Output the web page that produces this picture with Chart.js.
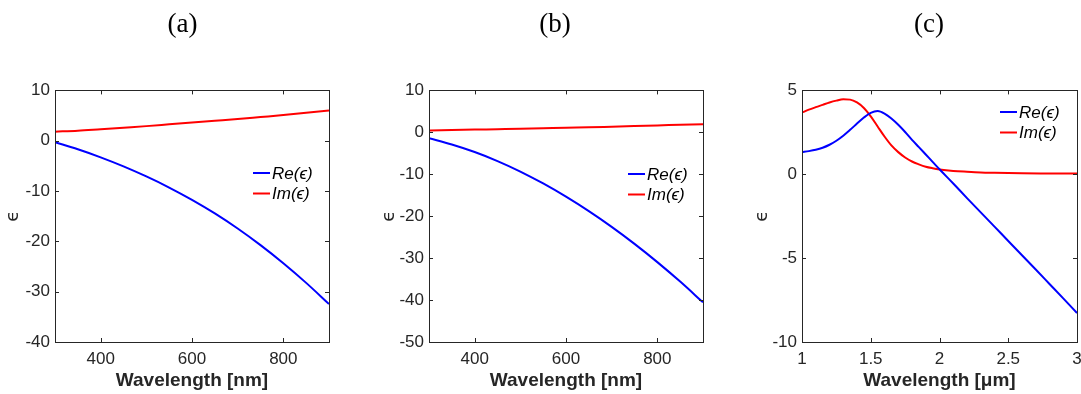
<!DOCTYPE html>
<html lang="en">
<head>
    <meta charset="UTF-8">
    <title>Permittivity</title>
    <script src="https://cdn.jsdelivr.net/npm/chart.js@4.4.1/dist/chart.umd.min.js"></script>
    <style>
        body {
            margin: 0;
            width: 1081px;
            height: 394px;
            overflow: hidden;
            background: #fff;
            position: relative;
        }

        canvas {
            position: absolute;
            top: 0;
        }
    </style>
</head>
<body>
    <canvas id="chartA" width="365" height="394" style="left: 0px;"></canvas>
    <canvas id="chartB" width="360" height="394" style="left: 375px;"></canvas>
    <canvas id="chartC" width="354" height="394" style="left: 752px;"></canvas>

    <script>
        // Panel (a) - wavelength in nm
        const wavelengthA = [300, 350, 400, 450, 500, 550, 600, 650, 700, 750, 800, 850, 900];
        const reA = [-0.3, -1.7, -3.3, -5.1, -7.1, -9.3, -11.75, -14.45, -17.45, -20.75, -24.35, -28.25, -32.45];
        const imA = [1.8, 2.0, 2.3, 2.6, 2.9, 3.25, 3.6, 3.95, 4.3, 4.7, 5.1, 5.55, 6.0];

        // Panel (b) - wavelength in nm
        const wavelengthB = [300, 350, 400, 450, 500, 550, 600, 650, 700, 750, 800, 850, 900];
        const reB = [-1.4, -2.9, -4.7, -6.85, -9.35, -12.2, -15.35, -18.8, -22.55, -26.6, -30.95, -35.6, -40.55];
        const imB = [0.45, 0.55, 0.65, 0.75, 0.85, 0.97, 1.1, 1.2, 1.35, 1.5, 1.65, 1.8, 1.95];

        // Panel (c) - wavelength in um
        const wavelengthReC = [1.00, 1.05, 1.10, 1.15, 1.20, 1.25, 1.30, 1.35, 1.40, 1.45, 1.50, 1.55, 1.60, 1.65, 1.70,
            1.75, 1.80, 1.85, 1.90, 1.95, 2.00, 2.10, 2.20, 2.30, 2.40, 2.50, 2.60, 2.70, 2.80, 2.90, 3.00];
        const reC = [1.32, 1.38, 1.46, 1.58, 1.76, 2.00, 2.30, 2.65, 3.02, 3.38, 3.66, 3.77, 3.62, 3.32, 2.95,
            2.52, 2.05, 1.62, 1.18, 0.74, 0.30, -0.55, -1.42, -2.27, -3.12, -3.98, -4.83, -5.68, -6.54, -7.40, -8.27];
        const wavelengthImC = [1.00, 1.05, 1.10, 1.15, 1.20, 1.25, 1.30, 1.35, 1.40, 1.45, 1.50, 1.55, 1.60, 1.65, 1.70,
            1.75, 1.80, 1.85, 1.90, 1.95, 2.00, 2.10, 2.20, 2.30, 2.40, 2.60, 2.80, 3.00];
        const imC = [3.67, 3.85, 4.00, 4.14, 4.28, 4.39, 4.47, 4.45, 4.28, 3.95, 3.45, 2.85, 2.25, 1.72, 1.32,
            1.00, 0.76, 0.59, 0.45, 0.36, 0.29, 0.20, 0.15, 0.11, 0.09, 0.06, 0.05, 0.04];

        const xTicksNm = [400, 600, 800];
        const xTicksUm = [1, 1.5, 2, 2.5, 3];
        const yTicksA = [-40, -30, -20, -10, 0, 10];
        const yTicksB = [-50, -40, -30, -20, -10, 0, 10];
        const yTicksC = [-10, -5, 0, 5];

        const seriesLabels = ['Re(\u03F5)', 'Im(\u03F5)'];
        const axisColor = '#262626';
        const sans = '"Liberation Sans", Arial, sans-serif';

        function toPoints(xs, ys) {
            return xs.map((x, i) => ({ x: x, y: ys[i] }));
        }

        // box around the axes, inward ticks and the legend (MATLAB look)
        function boxPlugin(legendDx, legendY) {
            return {
                id: 'matlabBox',
                afterDraw(chart) {
                    const ctx = chart.ctx;
                    const a = chart.chartArea;
                    const xs = chart.scales.x;
                    const ys = chart.scales.y;
                    const len = 4;

                    ctx.save();
                    ctx.strokeStyle = axisColor;
                    ctx.lineWidth = 1;
                    ctx.strokeRect(Math.round(a.left) + 0.5, Math.round(a.top) + 0.5,
                        Math.round(a.right - a.left), Math.round(a.bottom - a.top));

                    ctx.beginPath();
                    xs.ticks.forEach(t => {
                        const px = Math.round(xs.getPixelForValue(t.value)) + 0.5;
                        ctx.moveTo(px, a.bottom);
                        ctx.lineTo(px, a.bottom - len);
                        ctx.moveTo(px, a.top);
                        ctx.lineTo(px, a.top + len);
                    });
                    ys.ticks.forEach(t => {
                        const py = Math.round(ys.getPixelForValue(t.value)) + 0.5;
                        ctx.moveTo(a.left, py);
                        ctx.lineTo(a.left + len, py);
                        ctx.moveTo(a.right, py);
                        ctx.lineTo(a.right - len, py);
                    });
                    ctx.stroke();

                    // legend
                    const x0 = a.right - legendDx;
                    ctx.font = 'italic 17px ' + sans;
                    ctx.textBaseline = 'middle';
                    ctx.textAlign = 'left';
                    chart.data.datasets.forEach((ds, i) => {
                        const y = legendY + i * 20.5;
                        ctx.strokeStyle = ds.borderColor;
                        ctx.lineWidth = 2;
                        ctx.beginPath();
                        ctx.moveTo(x0, y);
                        ctx.lineTo(x0 + 17, y);
                        ctx.stroke();
                        ctx.fillStyle = '#000';
                        ctx.fillText(ds.label, x0 + 19, y + 1);
                    });
                    ctx.restore();
                }
            };
        }

        function makePanel(id, p) {
            const ctx = document.getElementById(id).getContext('2d');
            return new Chart(ctx, {
                type: 'line',
                data: {
                    datasets: [{
                        label: seriesLabels[0],
                        data: toPoints(p.xRe, p.re),
                        borderColor: '#0000FF',
                        borderWidth: 2,
                        pointRadius: 0,
                        cubicInterpolationMode: 'monotone'
                    }, {
                        label: seriesLabels[1],
                        data: toPoints(p.xIm, p.im),
                        borderColor: '#FF0000',
                        borderWidth: 2,
                        pointRadius: 0,
                        cubicInterpolationMode: 'monotone'
                    }]
                },
                options: {
                    responsive: false,
                    animation: false,
                    devicePixelRatio: 1,
                    layout: { padding: 0 },
                    plugins: {
                        legend: { display: false },
                        tooltip: { enabled: false },
                        title: {
                            display: true,
                            text: p.title,
                            color: '#000',
                            font: { family: '"Liberation Serif", "DejaVu Serif", serif', size: 27, weight: 'normal' },
                            padding: { top: 9, bottom: 49 }
                        }
                    },
                    scales: {
                        x: {
                            type: 'linear',
                            min: p.xMin,
                            max: p.xMax,
                            grid: { display: false, drawTicks: false },
                            border: { display: false },
                            afterBuildTicks: s => { s.ticks = p.xTicks.map(v => ({ value: v })); },
                            afterFit: s => { s.height = 52; },
                            ticks: {
                                color: axisColor,
                                padding: 7,
                                maxRotation: 0,
                                callback: v => String(v),
                                font: { family: sans, size: 17 }
                            },
                            title: {
                                display: true,
                                text: p.xTitle,
                                color: axisColor,
                                font: { family: sans, size: 19, weight: 'bold' },
                                padding: { top: 0, bottom: 2 }
                            }
                        },
                        y: {
                            type: 'linear',
                            min: p.yMin,
                            max: p.yMax,
                            grid: { display: false, drawTicks: false },
                            border: { display: false },
                            afterBuildTicks: s => { s.ticks = p.yTicks.map(v => ({ value: v })); },
                            afterFit: s => { s.width = p.yWidth; },
                            ticks: {
                                color: axisColor,
                                padding: 5,
                                callback: v => String(v),
                                font: { family: sans, size: 17 }
                            },
                            title: {
                                display: true,
                                text: '\u03F5',
                                color: axisColor,
                                font: { family: '"DejaVu Sans", sans-serif', size: 18, lineHeight: 1 },
                                padding: { top: p.yTitlePad, bottom: 0 }
                            }
                        },
                        // empty right axis, only reserves the space right of the plot box
                        yR: {
                            type: 'linear',
                            position: 'right',
                            grid: { display: false, drawTicks: false },
                            border: { display: false },
                            ticks: { display: false },
                            afterFit: s => { s.width = p.padRight; }
                        }
                    }
                },
                plugins: [boxPlugin(p.legendDx, p.legendY)]
            });
        }

        makePanel('chartA', {
            title: '(a)', xRe: wavelengthA, re: reA, xIm: wavelengthA, im: imA,
            xMin: 300, xMax: 900, xTicks: xTicksNm, xTitle: 'Wavelength [nm]',
            yMin: -40, yMax: 10, yTicks: yTicksA,
            padRight: 36, yWidth: 55, yTitlePad: 4, legendDx: 76, legendY: 173
        });

        makePanel('chartB', {
            title: '(b)', xRe: wavelengthB, re: reB, xIm: wavelengthB, im: imB,
            xMin: 300, xMax: 900, xTicks: xTicksNm, xTitle: 'Wavelength [nm]',
            yMin: -50, yMax: 10, yTicks: yTicksB,
            padRight: 32, yWidth: 54, yTitlePad: 5, legendDx: 75, legendY: 174
        });

        makePanel('chartC', {
            title: '(c)', xRe: wavelengthReC, re: reC, xIm: wavelengthImC, im: imC,
            xMin: 1, xMax: 3, xTicks: xTicksUm, xTitle: 'Wavelength [\u03BCm]',
            yMin: -10, yMax: 5, yTicks: yTicksC,
            padRight: 29, yWidth: 50, yTitlePad: 1, legendDx: 77, legendY: 112
        });
    </script>
</body>
</html>
